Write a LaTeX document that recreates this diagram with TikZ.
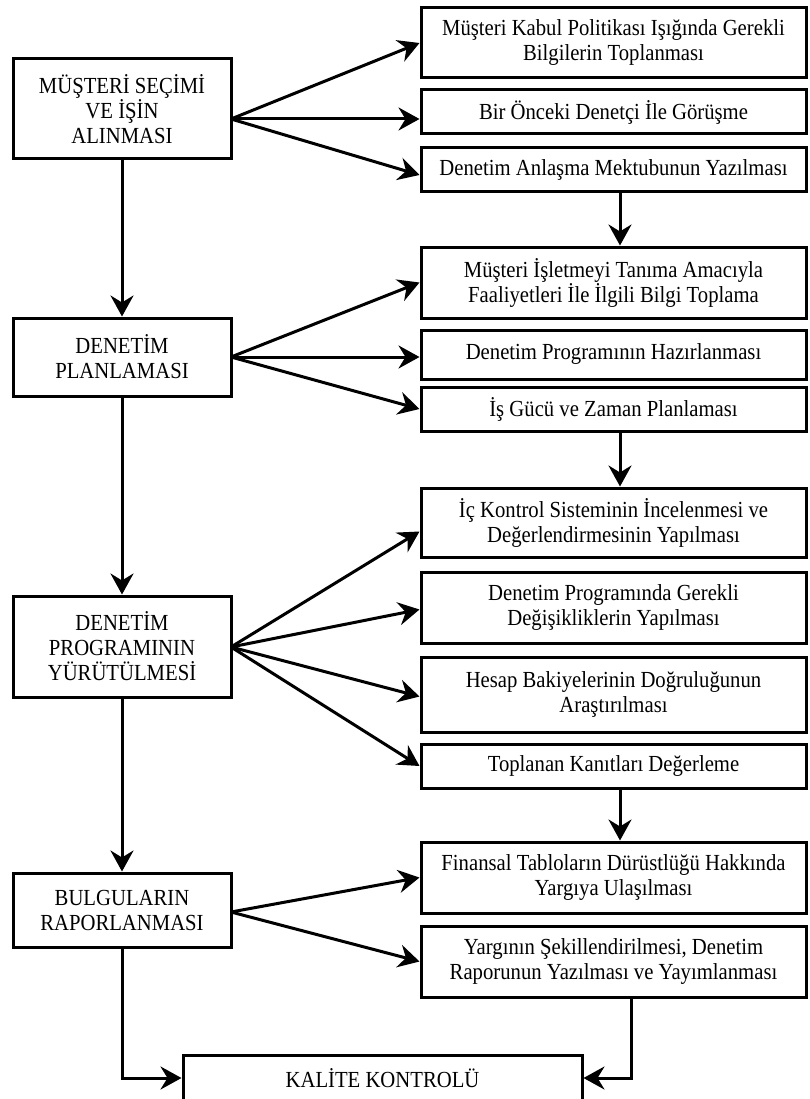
\documentclass[tikz,border=0pt]{standalone}
\usepackage{fontspec}
\setmainfont{Liberation Serif}[FakeStretch=0.9]
\usetikzlibrary{arrows.meta}
\tikzset{
  box/.style={draw, line width=3pt, inner sep=0pt, align=center,
    font=\fontsize{23}{25}\selectfont},
  lbox/.style={box, minimum width=218pt},
  rbox/.style={box, minimum width=385pt},
  conn/.style={line width=3pt, -{Stealth[length=21pt,width=23pt,inset=7pt]}}
}
\begin{document}
\begin{tikzpicture}[x=1pt,y=-1pt]
\useasboundingbox (0,0) rectangle (810,1099);
\clip (0,0) rectangle (810,1099);
% left column
\node[lbox, minimum height=100pt] (L1) at (122,109) {MÜŞTERİ SEÇİMİ\\VE İŞİN\\ALINMASI};
\node[lbox, minimum height=78pt] (L2) at (122,357) {DENETİM\\PLANLAMASI};
\node[lbox, minimum height=101pt] (L3) at (122,646.5) {DENETİM\\PROGRAMININ\\YÜRÜTÜLMESİ};
\node[lbox, minimum height=74pt] (L4) at (122,910) {BULGULARIN\\RAPORLANMASI};
% right column
\node[rbox, minimum height=70pt] (R1) at (613.5,43) {Müşteri Kabul Politikası Işığında Gerekli\\Bilgilerin Toplanması};
\node[rbox, minimum height=44pt] (R2) at (613.5,112) {Bir Önceki Denetçi İle Görüşme};
\node[rbox, minimum height=44pt] (R3) at (613.5,170) {Denetim Anlaşma Mektubunun Yazılması};
\node[rbox, minimum height=71pt] (R4) at (613.5,282.5) {Müşteri İşletmeyi Tanıma Amacıyla\\Faaliyetleri İle İlgili Bilgi Toplama};
\node[rbox, minimum height=49pt] (R5) at (613.5,354.5) {Denetim Programının Hazırlanması};
\node[rbox, minimum height=44pt] (R6) at (613.5,409) {İş Gücü ve Zaman Planlaması};
\node[rbox, minimum height=69pt] (R7) at (613.5,522.5) {İç Kontrol Sisteminin İncelenmesi ve\\Değerlendirmesinin Yapılması};
\node[rbox, minimum height=71pt] (R8) at (613.5,607.5) {Denetim Programında Gerekli\\Değişikliklerin Yapılması};
\node[rbox, minimum height=75pt] (R9) at (613.5,694.5) {Hesap Bakiyelerinin Doğruluğunun\\Araştırılması};
\node[rbox, minimum height=44pt] (R10) at (613.5,766) {Toplanan Kanıtları Değerleme};
\node[rbox, minimum height=71pt] (R11) at (613.5,877.5) {Finansal Tabloların Dürüstlüğü Hakkında\\Yargıya Ulaşılması};
\node[rbox, minimum height=71pt] (R12) at (613.5,961.5) {Yargının Şekillendirilmesi, Denetim\\Raporunun Yazılması ve Yayımlanması};
% bottom
\node[box, minimum width=399pt, minimum height=46pt] (K) at (382.5,1078) {KALİTE KONTROLÜ};
% fan origins and helper x positions
\coordinate (o1) at (231,119);
\coordinate (o2) at (231,357);
\coordinate (o3) at (231,647);
\coordinate (o4) at (231,912);
\coordinate (vx) at (620,0);
\coordinate (kx) at (631,0);
% fans
\draw[conn] (o1) -- (R1.west);
\draw[conn] (o1) -- (R2.west |- o1);
\draw[conn] (o1) -- ([yshift=-5pt]R3.west);
\draw[conn] (o2) -- (R4.west);
\draw[conn] (o2) -- (R5.west |- o2);
\draw[conn] (o2) -- (R6.west);
\draw[conn] (o3) -- ([yshift=-9pt]R7.west);
\draw[conn] (o3) -- ([yshift=-2pt]R8.west);
\draw[conn] (o3) -- ([yshift=-2pt]R9.west);
\draw[conn] (o3) -- (R10.west);
\draw[conn] (o4) -- (R11.west);
\draw[conn] (o4) -- (R12.west);
% left verticals
\draw[conn] (L1.south) -- (L2.north);
\draw[conn] (L2.south) -- (L3.north);
\draw[conn] (L3.south) -- (L4.north);
% right verticals
\draw[conn] (R3.south -| vx) -- (R4.north -| vx);
\draw[conn] (R6.south -| vx) -- (R7.north -| vx);
\draw[conn] (R10.south -| vx) -- (R11.north -| vx);
% to quality control
\draw[conn] (L4.south) |- (K.west);
\draw[conn] (R12.south -| kx) |- (K.east);
\end{tikzpicture}
\end{document}
